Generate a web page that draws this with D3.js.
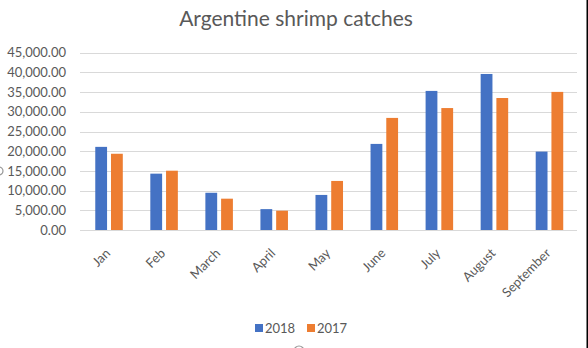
<!DOCTYPE html>
<html>
<head>
<meta charset="utf-8">
<script src="https://cdn.jsdelivr.net/npm/d3@7"></script>
<style>
  html, body { margin: 0; padding: 0; background: #fff; }
  svg { display: block; }
</style>
</head>
<body>
<script>
const categories = ["Jan", "Feb", "March", "April", "May", "June", "July", "August", "September"];
const seriesNames = ["2018", "2017"];
const values2018 = [21100, 14300, 9450, 5300, 8900, 21850, 35300, 39600, 19900];
const values2017 = [19350, 15050, 7950, 4900, 12450, 28450, 30950, 33500, 35050];
const yTicks = [0, 5000, 10000, 15000, 20000, 25000, 30000, 35000, 40000, 45000];
const colors = ["#4472C4", "#ED7D31"];
const title = "Argentine shrimp catches";

const W = 588, H = 348;
const font = "Lato, 'Open Sans', sans-serif";
const textColor = "#595959";

const svg = d3.select("body").append("svg").attr("width", W).attr("height", H);
svg.append("rect").attr("width", W).attr("height", H).attr("fill", "#fff");

const x0 = d3.scaleBand().domain(categories).range([81.5, 577]).paddingInner(0.5).paddingOuter(0.25);
const x1 = d3.scaleBand().domain(seriesNames).range([0, x0.bandwidth()]).paddingInner(0.25);
const y = d3.scaleLinear().domain([0, 45000]).range([230, 52.7]);

// gridlines
const yAxis = d3.axisLeft(y).tickValues(yTicks).tickFormat(d3.format(",.2f")).tickSize(0).tickPadding(14);
const gY = svg.append("g").attr("transform", "translate(80,0)").call(yAxis);
gY.select(".domain").remove();
gY.selectAll("text").attr("font-family", font).attr("font-size", 13).attr("fill", textColor);
svg.append("g").selectAll("line").data(yTicks).join("line")
  .attr("x1", 80).attr("x2", 577)
  .attr("y1", d => Math.round(y(d)) + 0.5).attr("y2", d => Math.round(y(d)) + 0.5)
  .attr("stroke", "#D9D9D9").attr("stroke-width", 1);

// bars
const rows = categories.map((c, i) => ({ cat: c, vals: [values2018[i], values2017[i]] }));
const groups = svg.append("g").selectAll("g").data(rows).join("g")
  .attr("transform", d => `translate(${x0(d.cat)},0)`);
groups.selectAll("rect").data(d => d.vals.map((v, j) => ({ s: seriesNames[j], v, j }))).join("rect")
  .attr("x", d => x1(d.s)).attr("width", x1.bandwidth())
  .attr("y", d => y(d.v)).attr("height", d => y(0) - y(d.v))
  .attr("fill", d => colors[d.j]);

// x labels
const xAxis = d3.axisBottom(x0).tickSize(0).tickPadding(0);
const gX = svg.append("g").attr("transform", "translate(0,230)").call(xAxis);
gX.select(".domain").remove();
gX.selectAll("text")
  .attr("font-family", font).attr("font-size", 13).attr("fill", textColor)
  .attr("text-anchor", "end").attr("dy", null).attr("y", null)
  .attr("transform", "translate(2,24) rotate(-45)");

// title
svg.append("text").attr("x", 296).attr("y", 26).attr("text-anchor", "middle")
  .attr("font-family", font).attr("font-size", 21).attr("fill", textColor).text(title);

// legend
const legend = svg.append("g");
const legendX = [255, 307];
seriesNames.forEach((s, i) => {
  legend.append("rect").attr("x", legendX[i]).attr("y", 324).attr("width", 8).attr("height", 8).attr("fill", colors[i]);
  legend.append("text").attr("x", legendX[i] + 10).attr("y", 332.5)
    .attr("font-family", font).attr("font-size", 13).attr("fill", textColor).text(s);
});

// frame artefacts
svg.append("line").attr("x1", W - 0.75).attr("x2", W - 0.75).attr("y1", 0).attr("y2", H)
  .attr("stroke", "#000").attr("stroke-width", 1.5);
svg.append("circle").attr("cx", -1).attr("cy", 171).attr("r", 4).attr("fill", "#fff").attr("stroke", "#999").attr("stroke-width", 1.2);
svg.append("circle").attr("cx", 299).attr("cy", 351).attr("r", 5).attr("fill", "#fff").attr("stroke", "#999").attr("stroke-width", 1.2);
</script>
</body>
</html>
